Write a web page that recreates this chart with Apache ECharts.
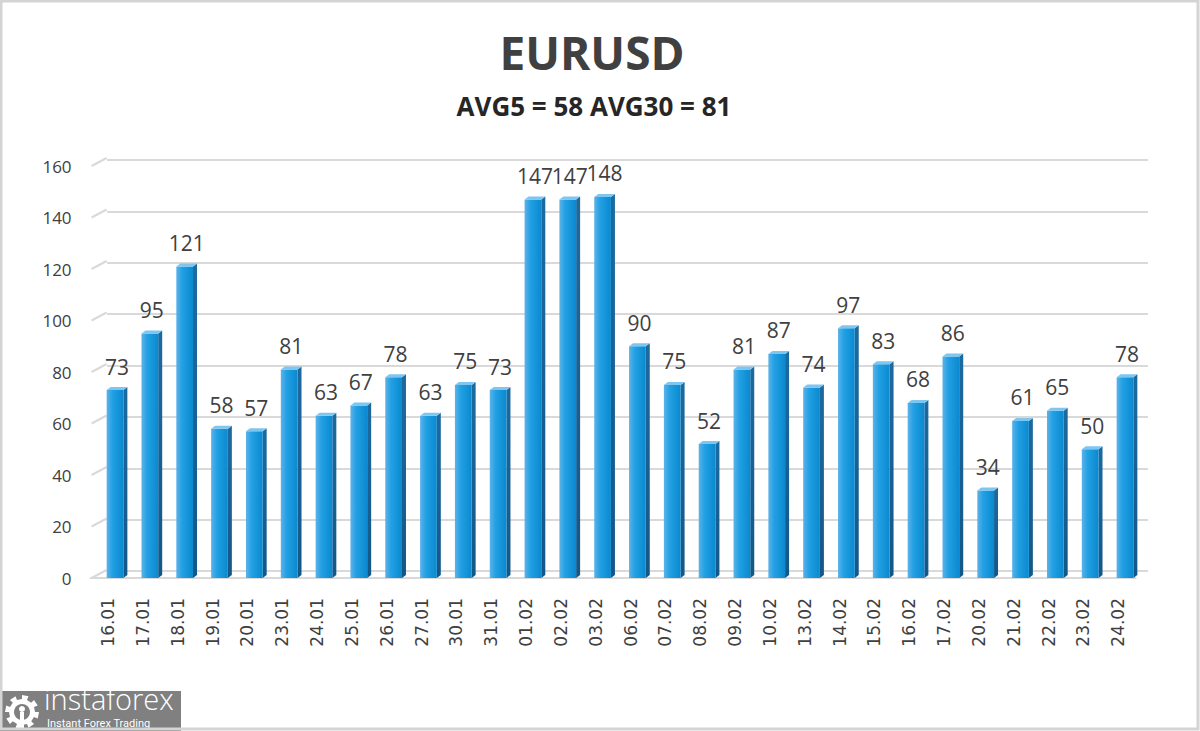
<!DOCTYPE html>
<html>
<head>
<meta charset="utf-8">
<script src="https://cdn.jsdelivr.net/npm/echarts@6/dist/echarts.min.js"></script>
<style>
html,body{margin:0;padding:0;background:#fff;}
#chart{width:1200px;height:731px;}
</style>
</head>
<body>
<div id="chart"></div>
<script>
const categories = ['16.01','17.01','18.01','19.01','20.01','23.01','24.01','25.01','26.01','27.01','30.01','31.01','01.02','02.02','03.02','06.02','07.02','08.02','09.02','10.02','13.02','14.02','15.02','16.02','17.02','20.02','21.02','22.02','23.02','24.02'];
const values = [73,95,121,58,57,81,63,67,78,63,75,73,147,147,148,90,75,52,81,87,74,97,83,68,86,34,61,65,50,78];
const yTicks = [0,20,40,60,80,100,120,140,160];
const titleText = 'EURUSD';
const subtitleText = 'AVG5 = 58 AVG30 = 81';

const chart = echarts.init(document.getElementById('chart'), null, {renderer:'svg'});

const frontGrad = new echarts.graphic.LinearGradient(0,0,1,0,[
  {offset:0,color:'#5cb3ea'},{offset:0.35,color:'#22a0e3'},{offset:1,color:'#0a89d0'}]);
const sideGrad = new echarts.graphic.LinearGradient(0,0,0,1,[
  {offset:0,color:'#1d6a9f'},{offset:1,color:'#145787'}]);

function renderBar(params, api){
  const i = api.value(0), v = api.value(1);
  const top = api.coord([i, v]);
  const base = api.coord([i, 0]);
  const w = api.size([1,0])[0]*0.48;
  const d = 4, dy = 3;
  const xl = top[0]-w/2, xr = top[0]+w/2;
  return {type:'group', children:[
    {type:'polygon', shape:{points:[[xr,top[1]],[xr+d,top[1]-dy],[xr+d,base[1]-dy],[xr,base[1]]]}, style:{fill:sideGrad}},
    {type:'rect', shape:{x:xl,y:top[1],width:w,height:base[1]-top[1]}, style:{fill:frontGrad}},
    {type:'polygon', shape:{points:[[xl,top[1]],[xl+d,top[1]-dy],[xr+d,top[1]-dy],[xr,top[1]]]}, style:{fill:'#7cc6f0'}},
    {type:'text', style:{text:String(v), x:top[0]+d/2, y:top[1]-13, align:'center', verticalAlign:'bottom',
      font:'21px "Open Sans"', fill:'#404040'}}
  ]};
}

function renderDiag(params, api){
  const v = api.value(0);
  const p = api.coord([0, v]);
  const x0 = params.coordSys.x;
  return {type:'line', shape:{x1:x0+1, y1:p[1], x2:x0+16, y2:p[1]-8}, style:{stroke:'#d9d9d9', lineWidth:2}};
}

// gear icon outline (decoration only)
function gearPath(cx, cy, r1, r2, n){
  let pts = [];
  for(let k=0;k<n*2;k++){
    const a0 = (k/(n*2))*Math.PI*2 - Math.PI/2;
    const a1 = ((k+1)/(n*2))*Math.PI*2 - Math.PI/2;
    const r = k%2===0 ? r2 : r1;
    pts.push([cx+r*Math.cos(a0), cy+r*Math.sin(a0)]);
    pts.push([cx+r*Math.cos(a1), cy+r*Math.sin(a1)]);
  }
  return pts;
}

const option = {
  backgroundColor:'#ffffff',
  animation:false,
  title:[
    {text:titleText, left:587, top:24, textAlign:'center',
     textStyle:{fontFamily:'Open Sans', fontWeight:'bold', fontSize:46, color:'#404040'}},
    {text:subtitleText, left:589, top:88, textAlign:'center',
     textStyle:{fontFamily:'Open Sans', fontWeight:'bold', fontSize:26, color:'#262626'}}
  ],
  grid:[
    {left:90.6, right:64.4, top:166, bottom:153},
    {left:97.6, right:57.6, top:166, bottom:153},
    {left:107, right:52, top:160, bottom:160}
  ],
  xAxis:[
    {type:'category', gridIndex:0, data:categories, boundaryGap:true,
     axisLine:{show:true, lineStyle:{color:'#d9d9d9', width:2}}, axisTick:{show:false},
     axisLabel:{rotate:90, margin:20, fontFamily:'DejaVu Sans', fontSize:17, color:'#404040'}},
    {type:'category', gridIndex:1, data:categories, boundaryGap:true, show:false},
    {type:'category', gridIndex:2, data:categories, boundaryGap:true, show:false}
  ],
  yAxis:[
    {type:'value', gridIndex:0, min:0, max:160, interval:20,
     axisLine:{show:false}, axisTick:{show:false}, splitLine:{show:false},
     axisLabel:{margin:19, fontFamily:'Open Sans', fontSize:17, color:'#404040'}},
    {type:'value', gridIndex:1, min:0, max:160, interval:20, show:false, splitLine:{show:false}},
    {type:'value', gridIndex:2, min:0, max:160, interval:20,
     axisLine:{show:false}, axisTick:{show:false}, axisLabel:{show:false},
     splitLine:{show:true, lineStyle:{color:'#d9d9d9', width:2}}}
  ],
  series:[
    {type:'custom', xAxisIndex:0, yAxisIndex:0, renderItem:renderDiag, data:yTicks.map(v=>[v]), silent:true, z:1},
    {type:'custom', xAxisIndex:1, yAxisIndex:1, renderItem:renderBar, data:values.map((v,i)=>[i,v]), z:5}
  ],
  graphic:[
    {type:'rect', shape:{x:1,y:1,width:1197,height:728}, style:{fill:'none', stroke:'#d4d4d4', lineWidth:3}, z:100},
    {type:'group', left:0, top:684, z:101, children:[
      {type:'rect', shape:{x:0,y:0,width:181,height:43}, style:{fill:'#808080'}},
      {type:'polygon', shape:{points:gearPath(22,21,13,17,8)}, style:{fill:'#ffffff'}},
      {type:'circle', shape:{cx:22,cy:21,r:8}, style:{fill:'#808080'}},
      {type:'circle', shape:{cx:22,cy:18,r:3}, style:{fill:'#ffffff'}},
      {type:'rect', shape:{x:20,y:21,width:4,height:16}, style:{fill:'#ffffff'}},
      {type:'text', style:{text:'instaforex', x:44, y:22, verticalAlign:'bottom', font:'300 29px "Open Sans"', fill:'#ffffff'}},
      {type:'text', style:{text:'Instant Forex Trading', x:47, y:27, verticalAlign:'top', font:'11px Roboto', fill:'#ffffff'}}
    ]}
  ]
};
chart.setOption(option);
</script>
</body>
</html>
